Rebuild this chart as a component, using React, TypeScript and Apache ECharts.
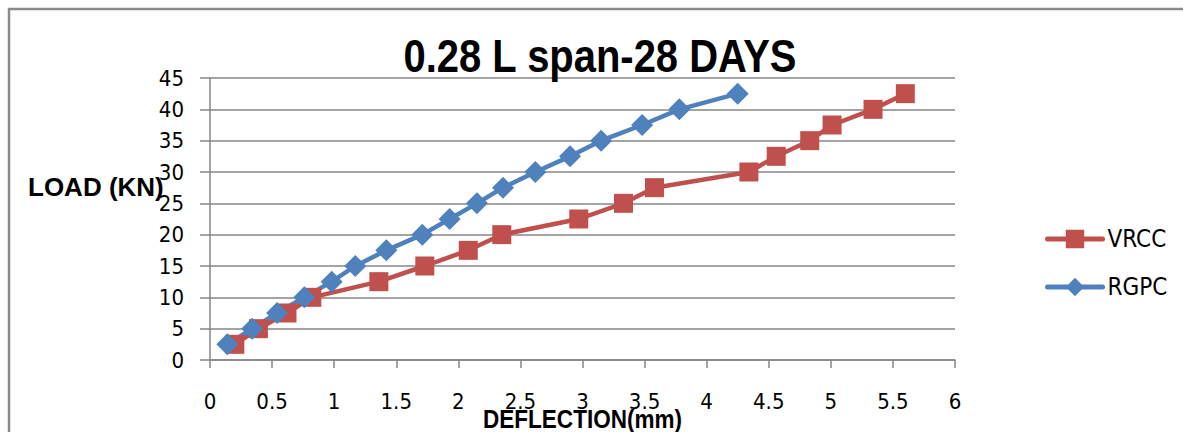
import React, { useEffect, useRef } from "react";
import * as echarts from "echarts";

const loadLevels = [2.5, 5, 7.5, 10, 12.5, 15, 17.5, 20, 22.5, 25, 27.5, 30, 32.5, 35, 37.5, 40, 42.5];
const vrccDeflection = [0.2, 0.39, 0.62, 0.82, 1.36, 1.73, 2.08, 2.35, 2.97, 3.33, 3.58, 4.34, 4.56, 4.83, 5.01, 5.34, 5.6];
const rgpcDeflection = [0.14, 0.34, 0.54, 0.76, 0.98, 1.17, 1.42, 1.71, 1.93, 2.15, 2.36, 2.62, 2.9, 3.15, 3.48, 3.78, 4.25];
const seriesNames = ["VRCC", "RGPC"];
const chartTitle = "0.28 L span-28 DAYS";
const xTitle = "DEFLECTION(mm)";
const yTitle = "LOAD (KN)";

const NARROW = '"Liberation Sans Narrow", "Arial Narrow", "DejaVu Sans Condensed", sans-serif';
const SANS = '"Liberation Sans", Arial, sans-serif';
const GRID_GRAY = "#868686";

export default function App() {
  const ref = useRef<HTMLDivElement>(null);
  useEffect(() => {
    if (!ref.current) return;
    const chart = echarts.init(ref.current, null, { renderer: "svg" });
    const pair = (xs: number[]) => xs.map((x, i) => [x, loadLevels[i]]);
    chart.setOption({
      animation: false,
      backgroundColor: "#ffffff",
      grid: { left: 210, right: 228, top: 78, bottom: 72, containLabel: false, outerBoundsMode: "none" },
      legend: {
        orient: "vertical",
        left: 1045,
        top: 227,
        padding: 0,
        itemWidth: 55,
        itemHeight: 23,
        itemGap: 24,
        lineStyle: { width: 5, cap: "round" },
        textStyle: { fontFamily: NARROW, fontSize: 24, color: "#000" },
        data: seriesNames,
      },
      xAxis: {
        type: "value",
        min: 0,
        max: 6,
        interval: 0.5,
        axisLine: { show: true, lineStyle: { color: GRID_GRAY, width: 1.5 } },
        axisTick: { show: true, inside: false, length: 8, lineStyle: { color: GRID_GRAY, width: 1.5 } },
        axisLabel: { fontFamily: NARROW, fontSize: 22, color: "#000", margin: 30 },
        splitLine: { show: false },
      },
      yAxis: {
        type: "value",
        min: 0,
        max: 45,
        interval: 5,
        axisLine: { show: true, lineStyle: { color: GRID_GRAY, width: 1.5 } },
        axisTick: { show: true, inside: false, length: 10, lineStyle: { color: GRID_GRAY, width: 1.5 } },
        axisLabel: { fontFamily: NARROW, fontSize: 22, color: "#000", margin: 26 },
        splitLine: { show: true, lineStyle: { color: GRID_GRAY, width: 1.5 } },
      },
      graphic: [
        {
          type: "rect",
          shape: { x: 9, y: 9, width: 1200, height: 450 },
          style: { fill: "none", stroke: "#8a8a8a", lineWidth: 2.5 },
          silent: true,
          z: 100,
        },
        {
          type: "text",
          x: 600,
          y: 55.5,
          scaleX: 0.85,
          style: {
            text: chartTitle,
            textAlign: "center",
            verticalAlign: "middle",
            fontFamily: SANS,
            fontWeight: "bold",
            fontSize: 47,
            fill: "#000",
          },
          z: 100,
        },
        {
          type: "text",
          x: 582.5,
          y: 418.7,
          scaleX: 0.85,
          style: {
            text: xTitle,
            textAlign: "center",
            verticalAlign: "middle",
            fontFamily: SANS,
            fontWeight: "bold",
            fontSize: 26.5,
            fill: "#000",
          },
          z: 100,
        },
        {
          type: "text",
          x: 28,
          y: 174,
          style: { text: yTitle, fontFamily: SANS, fontWeight: "bold", fontSize: 26, fill: "#000" },
          z: 100,
        },
      ],
      series: [
        {
          name: seriesNames[0],
          type: "line",
          data: pair(vrccDeflection),
          symbol: "rect",
          symbolSize: 19,
          lineStyle: { color: "#C0504D", width: 4.5 },
          itemStyle: { color: "#C0504D" },
        },
        {
          name: seriesNames[1],
          type: "line",
          data: pair(rgpcDeflection),
          symbol: "diamond",
          symbolSize: 22,
          lineStyle: { color: "#4F81BD", width: 4.5 },
          itemStyle: { color: "#4F81BD" },
        },
      ],
    });
    return () => chart.dispose();
  }, []);
  return (
    <div
      ref={ref}
      style={{ position: "fixed", left: 0, top: 0, width: 1183, height: 432 }}
    />
  );
}
